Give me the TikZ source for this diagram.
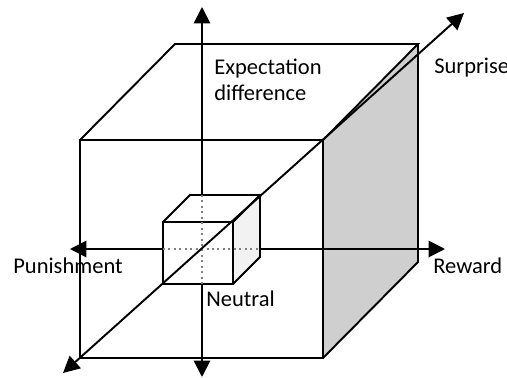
\documentclass[tikz,border=0pt]{standalone}
\usepackage{fontspec}
\setmainfont{Carlito}
\usetikzlibrary{arrows.meta}

\begin{document}
\begin{tikzpicture}[
  x=0.02cm,y=-0.02cm,
  axis/.style={line width=1.1pt,-{Triangle[length=3.3mm,width=3.3mm]}},
  edge/.style={line width=1.1pt},
  inner/.style={gray,dotted,line width=1.1pt},
  lbl/.style={font=\fontsize{12.8}{15.1}\selectfont,inner sep=0pt,anchor=base west,align=left}
]
\useasboundingbox (0,0) rectangle (507,378);
% big cube: front face and back offset
\coordinate (ftl) at (80,140);
\coordinate (ftr) at (323,140);
\coordinate (fbr) at (323,358);
\coordinate (fbl) at (80,358);
\coordinate (btl) at (175,44);
\coordinate (btr) at (418,44);
\coordinate (bbr) at (418,262);
% small cube
\coordinate (sftl) at (163,222);
\coordinate (sftr) at (233,222);
\coordinate (sfbr) at (233,284);
\coordinate (sfbl) at (163,284);
\coordinate (sbtl) at (190,195);
\coordinate (sbtr) at (260,195);
\coordinate (sbbr) at (260,257);
% axes
\coordinate (o) at (202,249);
\coordinate (left) at (70,249);
\coordinate (right) at (445,249);
\coordinate (up) at (202,7);
\coordinate (down) at (202,377);
\coordinate (near) at (63,373);
\coordinate (far) at (464,13);
\coordinate (hl) at (163,249);
\coordinate (hr) at (260,249);
\coordinate (vt) at (202,195);
\coordinate (vb) at (202,284);

\fill[gray!38] (ftr) -- (btr) -- (bbr) -- (fbr) -- cycle;
\draw[edge] (ftl) rectangle (fbr);
\draw[edge] (ftl) -- (btl) -- (btr) -- (ftr);
\draw[edge] (btr) -- (bbr) -- (fbr);

\fill[gray!10] (sftr) -- (sbtr) -- (sbbr) -- (sfbr) -- cycle;
\draw[edge] (sftl) rectangle (sfbr);
\draw[edge] (sftl) -- (sbtl) -- (sbtr) -- (sftr);
\draw[edge] (sbtr) -- (sbbr) -- (sfbr);

\draw[axis] (hl) -- (left);
\draw[axis] (hr) -- (right);
\draw[axis] (vt) -- (up);
\draw[axis] (vb) -- (down);
\draw[inner] (hl) -- (hr);
\draw[inner] (vt) -- (vb);
\draw[axis,{Triangle[length=3.3mm,width=3.3mm]}-{Triangle[length=3.3mm,width=3.3mm]}] (near) -- (far);

\node[lbl] (expect) at (214,101) {Expectation\\difference};
\node[lbl] (surprise) at (434,74) {Surprise};
\node[lbl] (punish) at (13,274) {Punishment};
\node[lbl] (reward) at (433,274) {Reward};
\node[lbl] (neutral) at (206,306) {Neutral};
\end{tikzpicture}
\end{document}
